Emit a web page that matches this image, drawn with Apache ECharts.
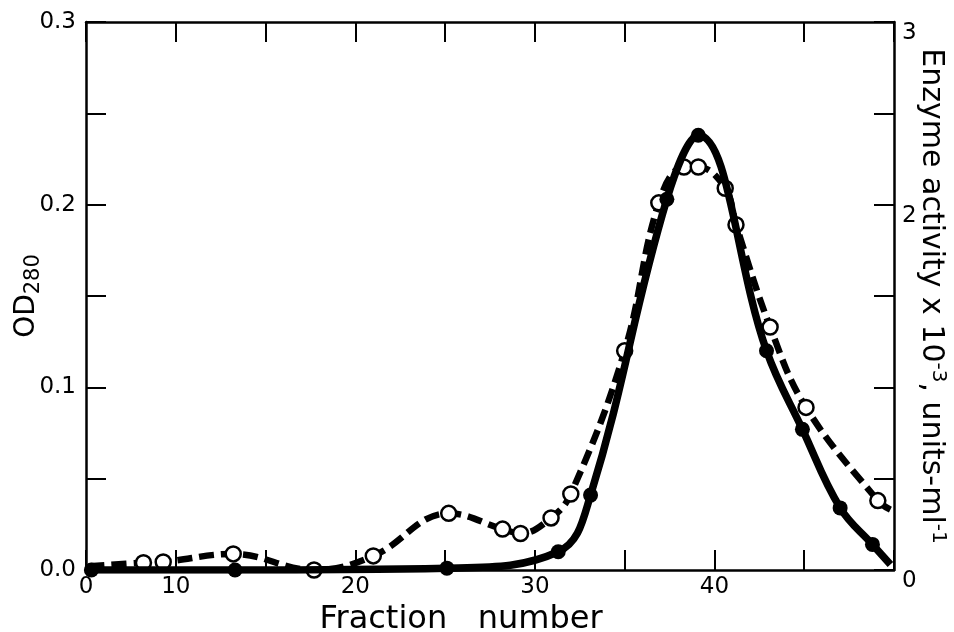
<!DOCTYPE html>
<html>
<head>
<meta charset="utf-8">
<script src="https://cdn.jsdelivr.net/npm/echarts@6/dist/echarts.min.js"></script>
<style>
  html, body { margin: 0; padding: 0; background: #fff; }
  #chart { width: 954px; height: 632px; }
</style>
</head>
<body>
<div id="chart"></div>
<script>
// OD280, open circles, dashed line  [fraction, OD]
var odPoints = [[8.2, 0.004], [9.3, 0.0044], [13.2, 0.0088], [17.7, 0.0], [21.0, 0.0077],
    [25.2, 0.031], [28.2, 0.0224], [29.2, 0.020], [30.9, 0.0285], [32.0, 0.0416],
    [35.0, 0.120], [36.9, 0.201], [38.3, 0.2206], [39.1, 0.2206], [40.6, 0.209],
    [41.2, 0.189], [43.1, 0.133], [45.1, 0.089], [49.1, 0.038]];
var odStart = [5.2, 0.002];
var odEnd = [49.8, 0.033];

// enzyme activity, filled circles, solid line  [fraction, units x 10^-3]
var enzPoints = [[5.3, 0.0], [13.3, 0.0], [25.1, 0.01], [31.3, 0.10], [33.1, 0.41],
    [37.35, 2.03], [39.1, 2.38], [42.9, 1.20], [44.9, 0.77], [47.0, 0.34], [48.8, 0.14]];
var enzEnd = [49.8, 0.03];

var xLabels = {5: '0', 10: '10', 20: '20', 30: '30', 40: '40'};
var leftLabels = ['0.0', '0.1', '0.2', '0.3'];
var rightLabels = {0: '0', 2: '2', 3: '3'};

var font = 'DejaVu Sans';

function withEnds(first, pts, last) {
    var out = [];
    if (first) out.push({value: first, symbol: 'none'});
    pts.forEach(function (p) { out.push({value: p}); });
    if (last) out.push({value: last, symbol: 'none'});
    return out;
}

var chart = echarts.init(document.getElementById('chart'));
var axisLine = {show: true, onZero: false, lineStyle: {color: '#000', width: 2.5}};
var tick = {show: true, inside: true, length: 20, lineStyle: {color: '#000', width: 2}};

var option = {
    backgroundColor: '#fff',
    animation: false,
    grid: {left: 86, right: 60, top: 22, bottom: 62, outerBoundsMode: 'none', containLabel: false},
    xAxis: [{
        type: 'value', min: 5, max: 50, interval: 5, position: 'bottom',
        axisLine: axisLine, axisTick: tick, splitLine: {show: false},
        axisLabel: {
            color: '#000', fontFamily: font, fontSize: 23, margin: 6,
            showMaxLabel: true, showMinLabel: true,
            formatter: function (v) { return xLabels[v] || ''; }
        },
        name: 'Fraction   number', nameLocation: 'middle', nameGap: 26,
        nameTextStyle: {color: '#000', fontFamily: font, fontSize: 32, padding: [0, 58, 0, 0]}
    }, {
        type: 'value', min: 5, max: 50, interval: 5, position: 'top',
        axisLine: axisLine, axisTick: tick, splitLine: {show: false},
        axisLabel: {show: false}
    }],
    yAxis: [{
        type: 'value', min: 0, max: 0.3, interval: 0.05, position: 'left',
        axisLine: axisLine, axisTick: tick, splitLine: {show: false},
        axisLabel: {
            color: '#000', fontFamily: font, fontSize: 23, margin: 10,
            formatter: function (v) {
                var k = Math.round(v * 10);
                return Math.abs(v * 10 - k) < 1e-6 ? leftLabels[k] : '';
            }
        },
        name: '{a|OD}{b|280}', nameLocation: 'middle', nameGap: 42,
        nameMoveOverlap: false,
        nameTextStyle: {
            color: '#000', fontFamily: font,
            rich: {
                a: {fontSize: 28, fontFamily: font, color: '#000', lineHeight: 34},
                b: {fontSize: 21, fontFamily: font, color: '#000', lineHeight: 22, verticalAlign: 'bottom'}
            }
        }
    }, {
        type: 'value', min: 0, max: 3, interval: 0.5, position: 'right',
        axisLine: axisLine, axisTick: tick, splitLine: {show: false},
        axisLabel: {
            color: '#000', fontFamily: font, fontSize: 23, margin: 8,
            verticalAlign: 'top',
            formatter: function (v) { return rightLabels[v] || ''; }
        },
        name: '{t|Enzyme activity x 10}{s|-3}{t|, units-ml}{s|-1}',
        nameLocation: 'middle', nameGap: 20,
        nameMoveOverlap: false,
        nameRotate: -90,
        nameTextStyle: {
            color: '#000', fontFamily: font,
            rich: {
                t: {fontSize: 30, fontFamily: font, color: '#000', lineHeight: 34},
                s: {fontSize: 20, fontFamily: font, color: '#000', lineHeight: 20, verticalAlign: 'top'}
            }
        }
    }],
    series: [{
        name: 'OD280',
        type: 'line', xAxisIndex: 0, yAxisIndex: 0,
        smooth: 0.4,
        data: withEnds(odStart, odPoints, odEnd),
        symbol: 'circle', symbolSize: 15,
        itemStyle: {color: '#fff', borderColor: '#000', borderWidth: 2.5},
        lineStyle: {color: '#000', width: 6.5, type: [15, 7]},
        z: 2
    }, {
        name: 'Enzyme activity',
        type: 'line', xAxisIndex: 0, yAxisIndex: 1,
        smooth: 0.4,
        data: withEnds(null, enzPoints, enzEnd),
        symbol: 'circle', symbolSize: 15,
        itemStyle: {color: '#000', borderColor: '#000', borderWidth: 0},
        lineStyle: {color: '#000', width: 7.5},
        z: 3
    }]
};
chart.setOption(option);
</script>
</body>
</html>
